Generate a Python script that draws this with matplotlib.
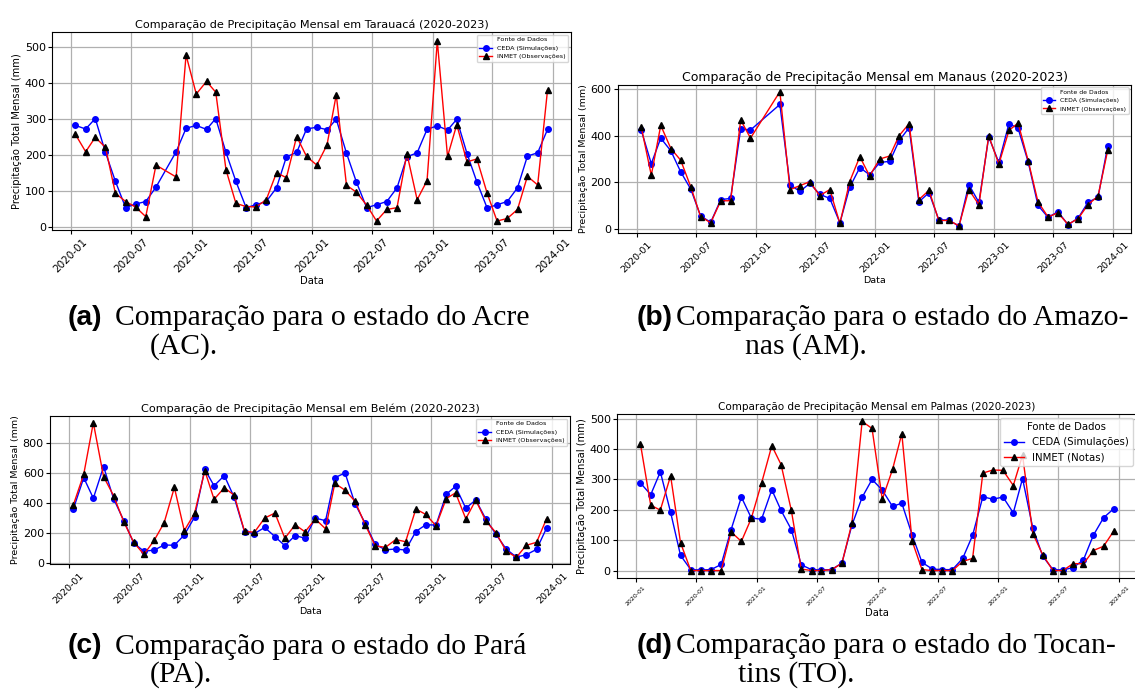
import numpy as np
import pandas as pd
import matplotlib
matplotlib.use("Agg")
import matplotlib.pyplot as plt
import matplotlib.dates as mdates

# ── Data (monthly totals, mm; None = month absent in the source) ─────
months = pd.date_range("2020-01-01", periods=48, freq="MS") + pd.Timedelta(days=14)

acre_ceda = [283, 273, 302, 208, 128, 55, 65, 72, 112, None, 210, 275,
             283, 272, 302, 208, 128, 55, 63, 72, 110, 196, 208, 273,
             278, 271, 300, 206, 126, 55, 63, 72, 110, 196, 207, 272,
             282, 270, 300, 205, 126, 54, 63, 72, 110, 198, 207, 272]
acre_inmet = [258, 210, 250, 222, 95, 72, 57, 30, 173, None, 140, 478,
              370, 405, 375, 160, 67, 58, 57, 77, 152, 138, 252, 197,
              173, 229, 368, 117, 98, 62, 18, 50, 55, 205, 77, 130,
              517, 197, 285, 182, 190, 95, 18, 25, 50, 142, 118, 382]

manaus_ceda = [425, 280, 390, 335, 245, 170, 55, 27, 125, 130, 430, 425,
               None, None, 535, 190, 160, 195, 148, 130, 25, 178, 263, 232,
               285, 290, 378, 435, 115, 155, 38, 37, 10, 190, 113, 395,
               285, 453, 432, 287, 100, 48, 73, 17, 45, 113, 135, 358]
manaus_inmet = [440, 230, 445, 345, 295, 180, 52, 25, 120, 120, 468, 390,
                None, None, 590, 168, 185, 202, 142, 168, 22, 203, 310, 227,
                300, 313, 400, 452, 125, 165, 35, 35, 12, 168, 103, 400,
                278, 423, 455, 292, 115, 50, 68, 18, 43, 103, 140, 340]

belem_ceda = [360, 566, 429, 640, 427, 280, 130, 75, 83, 117, 115, 184,
              303, 622, 512, 580, 434, 205, 193, 234, 173, 112, 180, 162,
              297, 279, 566, 598, 393, 261, 121, 85, 90, 83, 207, 252,
              250, 456, 508, 362, 418, 288, 189, 90, 36, 52, 88, 229]
belem_inmet = [387, 589, 933, 573, 447, 272, 135, 54, 148, 265, 501, 213,
               328, 613, 422, 499, 449, 208, 202, 297, 330, 162, 252, 205,
               290, 225, 528, 483, 409, 252, 112, 101, 153, 139, 357, 321,
               245, 427, 465, 292, 416, 276, 200, 76, 35, 115, 135, 292]

palmas_ceda = [288, 250, 325, 192, 50, 3, 2, 3, 20, 135, 242, 173,
               169, 266, 198, 135, 19, 3, 2, 3, 25, 149, 241, 300,
               265, 211, 222, 118, 27, 5, 3, 3, 40, 116, 243, 235,
               242, 190, 303, 140, 47, 3, 2, 10, 35, 116, 174, 203]
palmas_inmet = [416, 215, 199, 312, 92, 0, 0, 0, 0, 127, 96, 172,
                288, 411, 349, 198, 5, 0, 0, 3, 24, 155, 491, 468,
                235, 333, 451, 98, 3, 0, 0, 0, 30, 40, 321, 331,
                330, 280, 380, 122, 52, 0, 0, 23, 22, 66, 80, 129]

W, H = 1135, 691


def px_axes(fig, left, top, right, bottom):
    return fig.add_axes([left / W, 1 - bottom / H, (right - left) / W, (bottom - top) / H])


def panel(ax, city, ceda, inmet, inmet_label, title_fs, label_fs, ytick_fs,
          xtick_fs, leg_fs):
    s_ceda = pd.Series(ceda, index=months, dtype=float).dropna()
    s_inmet = pd.Series(inmet, index=months, dtype=float).dropna()
    ax.plot(s_ceda.index, s_ceda.values, color="blue", marker="o", ms=4,
            lw=1, label="CEDA (Simulações)")
    ax.plot(s_inmet.index, s_inmet.values, color="red", marker="^", ms=4.5,
            mfc="black", mec="black", lw=1, label=inmet_label)
    ax.set_title(f"Comparação de Precipitação Mensal em {city} (2020-2023)",
                 fontsize=title_fs, pad=3)
    ax.set_xlabel("Data", fontsize=label_fs, labelpad=1)
    ax.set_ylabel("Precipitação Total Mensal (mm)", fontsize=label_fs, labelpad=2)
    ax.set_xlim(pd.Timestamp("2019-11-05"), pd.Timestamp("2024-02-24"))
    ax.xaxis.set_major_locator(mdates.MonthLocator(bymonth=[1, 7]))
    ax.xaxis.set_major_formatter(mdates.DateFormatter("%Y-%m"))
    ax.tick_params(axis="x", labelrotation=45, labelsize=xtick_fs, length=3, pad=2)
    ax.tick_params(axis="y", labelsize=ytick_fs, length=3, pad=1.5)
    ax.grid(True, color="#b0b0b0", lw=0.9)
    ax.legend(title="Fonte de Dados", loc="upper right", fontsize=leg_fs,
              title_fontsize=leg_fs, borderaxespad=0.4)


fig = plt.figure(figsize=(W / 100, H / 100), dpi=100)

ax_a = px_axes(fig, 52, 32, 571, 230)
panel(ax_a, "Tarauacá", acre_ceda, acre_inmet, "INMET (Observações)",
      8.1, 7.2, 8, 7.5, 4.6)

ax_b = px_axes(fig, 618, 85, 1131, 233)
panel(ax_b, "Manaus", manaus_ceda, manaus_inmet, "INMET (Observações)",
      9.0, 6.8, 8, 6.8, 4.4)

ax_c = px_axes(fig, 50, 416, 570, 564)
panel(ax_c, "Belém", belem_ceda, belem_inmet, "INMET (Observações)",
      8.1, 6.8, 8, 6.8, 4.6)

ax_d = px_axes(fig, 617, 414, 1137, 578)
panel(ax_d, "Palmas", palmas_ceda, palmas_inmet, "INMET (Notas)",
      7.5, 7.2, 8, 4.5, 7.3)

# ── Sub-figure captions ───────────────────────────────────────────────
cap_fs = 21.3
captions = [
    (68, 318, "(a)", 115, "Comparação para o estado do Acre", 150, "(AC)."),
    (637, 318, "(b)", 676, "Comparação para o estado do Amazo-", 745, "nas (AM)."),
    (68, 646, "(c)", 115, "Comparação para o estado do Pará", 150, "(PA)."),
    (637, 646, "(d)", 676, "Comparação para o estado do Tocan-", 738, "tins (TO)."),
]
for x_tag, y1, tag, x1, line1, x2, line2 in captions:
    fig.text(x_tag / W, 1 - y1 / H, tag, fontsize=cap_fs - 1, fontweight="bold",
             family="Liberation Sans", va="center")
    fig.text(x1 / W, 1 - y1 / H, line1, fontsize=cap_fs,
             family="Liberation Serif", va="center")
    fig.text(x2 / W, 1 - (y1 + 29) / H, line2, fontsize=cap_fs,
             family="Liberation Serif", va="center")

fig.savefig("out.png", dpi=100)
